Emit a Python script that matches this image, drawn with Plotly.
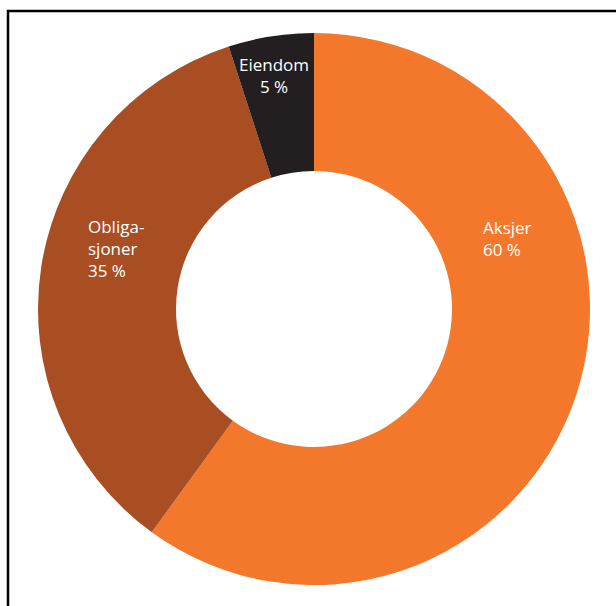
import plotly.graph_objects as go

categories = ["Aksjer", "Obligasjoner", "Eiendom"]
display_labels = ["Aksjer", "Obliga-<br>sjoner", "Eiendom"]
values = [60, 35, 5]
colors = ["#F3782C", "#A84E22", "#231F20"]

W, H = 616, 606

fig = go.Figure(go.Pie(
    labels=categories,
    values=values,
    hole=0.5,
    sort=False,
    direction="clockwise",
    rotation=0,
    marker=dict(colors=colors, line=dict(width=0)),
    textinfo="none",
    hoverinfo="label+percent",
    domain=dict(x=[(314 - 276) / W, (314 + 276) / W],
                y=[(H - 309 - 276) / H, (H - 309 + 276) / H]),
    showlegend=False,
))

# label placement (pixel positions of text blocks: x, block centre y, anchor)
label_pos = [(481, 238.5, "left"), (86, 249, "left"), (274, 75, "center")]
for lab, v, (px, py, anc) in zip(display_labels, values, label_pos):
    fig.add_annotation(
        x=px / W, y=1 - py / H, xref="paper", yref="paper",
        text=f"{lab}<br>{v} %", showarrow=False,
        xanchor=anc, yanchor="middle", align=anc,
        font=dict(family="Open Sans, sans-serif", size=17, color="white"),
    )

# frame
fig.add_shape(type="rect", xref="paper", yref="paper",
              x0=8 / W, x1=1.2, y0=-0.2, y1=1 - 11 / H,
              line=dict(color="black", width=2.5), fillcolor="rgba(0,0,0,0)")

fig.update_layout(
    width=W, height=H,
    margin=dict(l=0, r=0, t=0, b=0),
    paper_bgcolor="white", plot_bgcolor="white",
)

fig.write_html("out.html")
